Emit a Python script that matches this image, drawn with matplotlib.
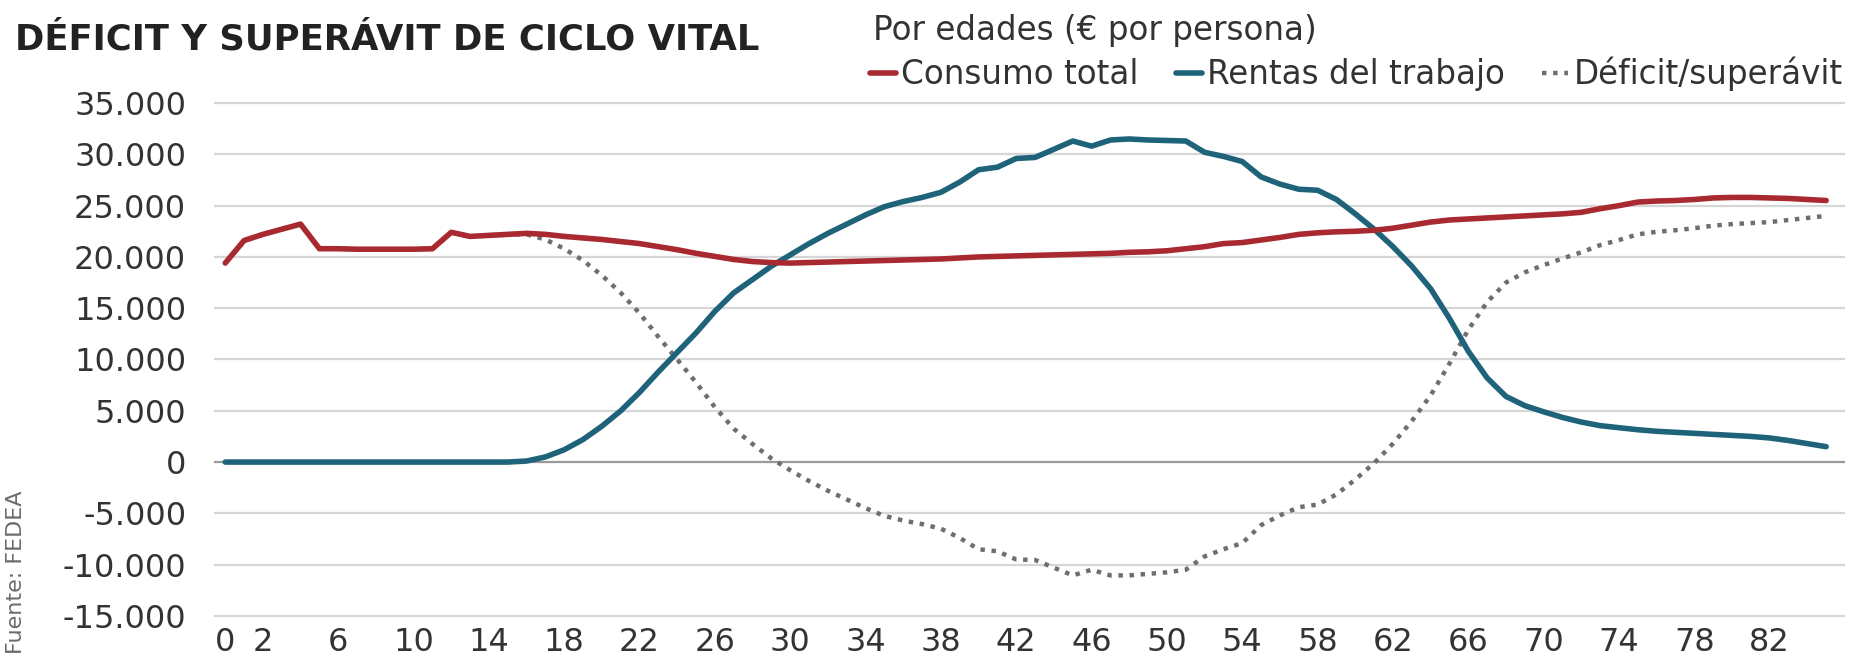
import matplotlib
matplotlib.use('Agg')
import matplotlib.pyplot as plt
from matplotlib.ticker import FuncFormatter

plt.rcParams['font.family'] = ['DejaVu Sans']

# Edad (0..85) y valores en euros por persona
ages = list(range(0, 86))

consumo = [19400, 21600, 22200, 22700, 23200, 20800, 20800, 20750, 20750, 20750,
           20750, 20800, 22400, 22000, 22100, 22200, 22300, 22200, 22000, 21850,
           21700, 21500, 21300, 21000, 20700, 20350, 20050, 19750, 19550, 19450,
           19400, 19450, 19500, 19550, 19600, 19650, 19700, 19750, 19800, 19900,
           20000, 20050, 20100, 20150, 20200, 20250, 20300, 20350, 20450, 20500,
           20600, 20800, 21000, 21300, 21400, 21650, 21900, 22200, 22350, 22450,
           22500, 22600, 22800, 23100, 23400, 23600, 23700, 23800, 23900, 24000,
           24100, 24200, 24350, 24700, 25000, 25350, 25450, 25500, 25600, 25750,
           25800, 25800, 25750, 25700, 25600, 25500]

rentas = [0, 0, 0, 0, 0, 0, 0, 0, 0, 0,
          0, 0, 0, 0, 0, 0, 100, 500, 1200, 2200,
          3500, 5000, 6800, 8800, 10700, 12600, 14700, 16500, 17800, 19100,
          20200, 21300, 22300, 23200, 24100, 24900, 25400, 25800, 26300, 27300,
          28500, 28750, 29600, 29700, 30500, 31300, 30800, 31400, 31500, 31400,
          31350, 31300, 30200, 29800, 29300, 27800, 27100, 26600, 26500, 25600,
          24200, 22700, 21000, 19100, 16900, 14000, 10800, 8200, 6400, 5500,
          4900, 4350, 3900, 3550, 3350, 3150, 3000, 2900, 2800, 2700,
          2600, 2500, 2350, 2100, 1800, 1500]

deficit = [19400, 21600, 22200, 22700, 23200, 20800, 20800, 20750, 20750, 20750,
           20750, 20800, 22400, 22000, 22100, 22200, 22200, 21700, 20800, 19650,
           18200, 16500, 14500, 12200, 10000, 7750, 5350, 3250, 1750, 350,
           -800, -1850, -2800, -3650, -4500, -5250, -5700, -6050, -6500, -7400,
           -8500, -8700, -9500, -9550, -10300, -11050, -10500, -11050, -11050, -10900,
           -10750, -10500, -9200, -8500, -7900, -6150, -5200, -4400, -4150, -3150,
           -1700, -100, 1800, 4000, 6500, 9600, 12900, 15600, 17500, 18500,
           19200, 19850, 20450, 21150, 21650, 22200, 22450, 22600, 22800, 23050,
           23200, 23300, 23400, 23600, 23800, 24000]

x_ticks = [0, 2, 6, 10, 14, 18, 22, 26, 30, 34, 38, 42, 46, 50, 54, 58, 62, 66, 70, 74, 78, 82]
y_ticks = [-15000, -10000, -5000, 0, 5000, 10000, 15000, 20000, 25000, 30000, 35000]

red = '#a8292f'
blue = '#1e637a'
grey_dots = '#6e6e6e'
text_col = '#333333'

fig = plt.figure(figsize=(18.75, 6.64), dpi=100)
ax = fig.add_axes([0.1141, 0.0678, 0.8699, 0.7816])

# gridlines first, zero line a bit darker
for v in y_ticks:
    ax.axhline(v, color='#9a9a9a' if v == 0 else '#d6d6d6', lw=1.6, zorder=1)

l_def, = ax.plot(ages, deficit, color=grey_dots, lw=3.2, linestyle=(0, (1, 1.5)),
                 dash_capstyle='butt', zorder=2)
l_rent, = ax.plot(ages, rentas, color=blue, lw=4, solid_joinstyle='round',
                  solid_capstyle='round', zorder=3)
l_cons, = ax.plot(ages, consumo, color=red, lw=4, solid_joinstyle='round',
                  solid_capstyle='round', zorder=4)

ax.set_xlim(-0.6, 86)
ax.set_ylim(-15300, 35300)
ax.set_xticks(x_ticks)
ax.set_yticks(y_ticks)
ax.yaxis.set_major_formatter(FuncFormatter(lambda v, p: f'{int(v):,}'.replace(',', '.')))
ax.tick_params(axis='both', length=0, labelsize=23, labelcolor=text_col)
ax.tick_params(axis='y', pad=20)
ax.tick_params(axis='x', pad=6)
for s in ax.spines.values():
    s.set_visible(False)

fig.text(15 / 1875, 1 - 49 / 664, 'DÉFICIT Y SUPERÁVIT DE CICLO VITAL',
         fontsize=25.5, fontweight='bold', color='#222222', va='baseline', ha='left')
fig.text(873 / 1875, 1 - 40 / 664, 'Por edades (€ por persona)',
         fontsize=23.5, color=text_col, va='baseline', ha='left')

fig.legend(handles=[l_cons, l_rent, l_def],
           labels=['Consumo total', 'Rentas del trabajo', 'Déficit/superávit'],
           loc='center left', bbox_to_anchor=(870 / 1875, 1 - 74 / 664),
           ncol=3, frameon=False, fontsize=23.5, labelcolor=text_col,
           handlelength=0.8, handletextpad=0.15, columnspacing=1.15,
           borderpad=0, borderaxespad=0)

fig.text(16 / 1875, 1 - 572 / 664, 'Fuente: FEDEA', rotation=90, fontsize=16,
         color='#6b6b6b', ha='center', va='center')

fig.savefig('out.png', dpi=100)
